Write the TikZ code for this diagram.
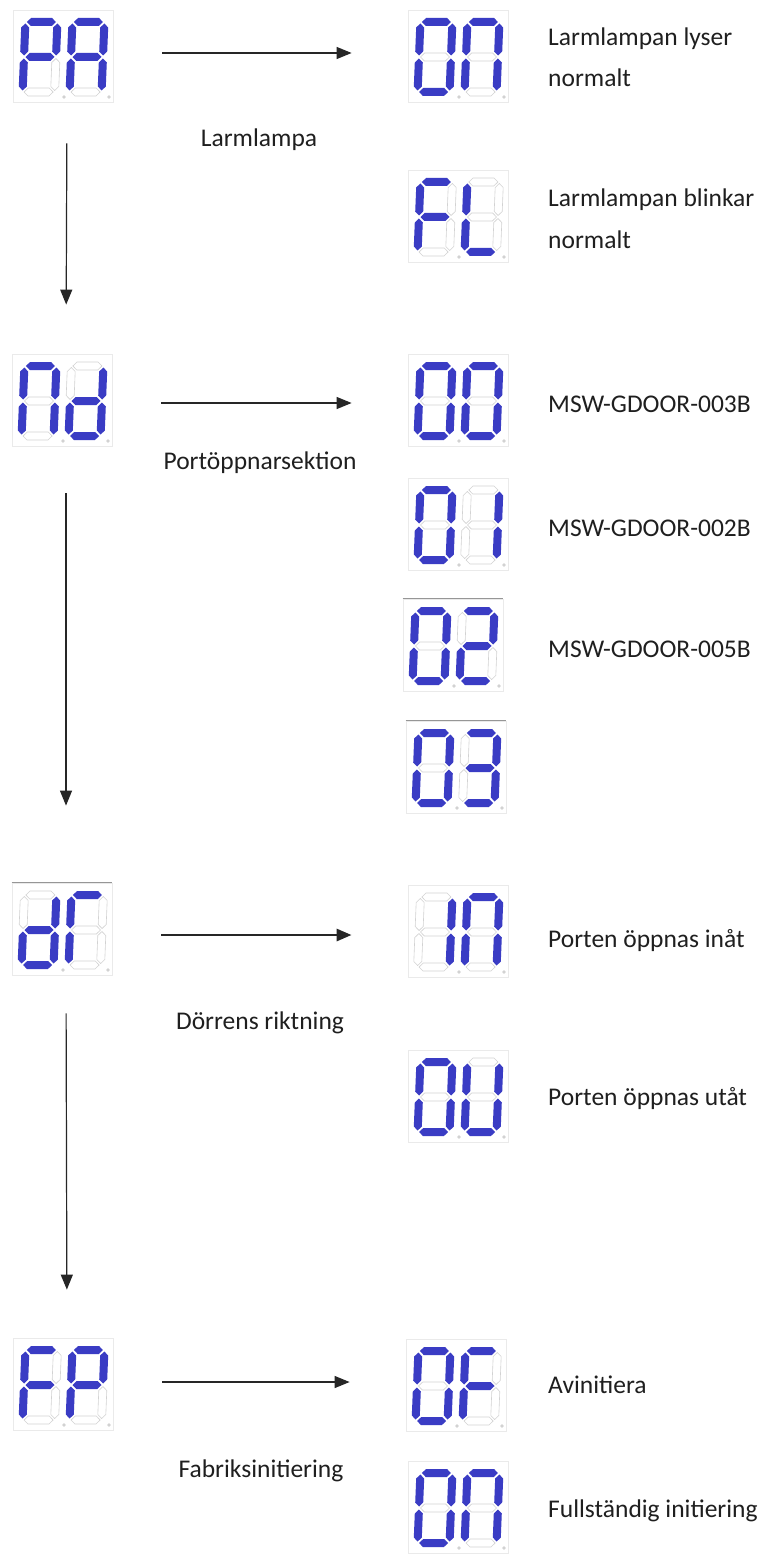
\documentclass[tikz,border=0pt]{standalone}
\usepackage{fontspec}
\setmainfont{Carlito}
\usetikzlibrary{arrows.meta}
\definecolor{segblue}{RGB}{58,60,196}
\definecolor{segoffc}{RGB}{210,210,210}
\definecolor{boxgray}{RGB}{234,234,234}
\definecolor{rulegray}{RGB}{150,150,150}
\def\sh{4.0}
\newcommand\hsg[4]{\path[#4] ({#1},{#3}) -- ({#1+\sh},{#3-\sh}) -- ({#2-\sh},{#3-\sh}) -- ({#2},{#3}) -- ({#2-\sh},{#3+\sh}) -- ({#1+\sh},{#3+\sh}) -- cycle;}
\newcommand\vsg[4]{\path[#4] ({#1},{#2}) -- ({#1+\sh},{#2+\sh}) -- ({#1+\sh},{#3-\sh}) -- ({#1},{#3}) -- ({#1-\sh},{#3-\sh}) -- ({#1-\sh},{#2+\sh}) -- cycle;}
\newcommand\sev[7]{%
  \hsg{-14.5}{14.5}{-35}{#1}%
  \vsg{16}{-33.5}{-1.5}{#2}%
  \vsg{16}{1.5}{33.5}{#3}%
  \hsg{-14.5}{14.5}{35}{#4}%
  \vsg{-16}{1.5}{33.5}{#5}%
  \vsg{-16}{-33.5}{-1.5}{#6}%
  \hsg{-14.5}{14.5}{0}{#7}}
\newcommand\segO{\sev{son}{son}{son}{son}{son}{son}{sof}}
\newcommand\segN{\sev{son}{son}{son}{sof}{son}{son}{sof}}
\newcommand\segP{\sev{son}{son}{sof}{sof}{son}{son}{son}}
\newcommand\segA{\sev{son}{son}{son}{sof}{son}{son}{son}}
\newcommand\segF{\sev{son}{sof}{sof}{sof}{son}{son}{son}}
\newcommand\segL{\sev{sof}{sof}{sof}{son}{son}{son}{sof}}
\newcommand\segD{\sev{sof}{son}{son}{son}{son}{sof}{son}}
\newcommand\segI{\sev{sof}{son}{son}{sof}{sof}{sof}{sof}}
\newcommand\segU{\sev{sof}{son}{son}{son}{son}{son}{sof}}
\newcommand\segR{\sev{son}{sof}{sof}{sof}{son}{son}{sof}}
\newcommand\segTwo{\sev{son}{son}{sof}{son}{son}{sof}{son}}
\newcommand\segThree{\sev{son}{son}{son}{son}{sof}{sof}{son}}
\newcommand\disp[6]{%
  \node[dispbox,#6] (#1) at (#2,#3) {};
  \begin{scope}[shift={({#2-23},{#3+1})},xslant=0.04] #4 \end{scope}
  \begin{scope}[shift={({#2+24},{#3+1})},xslant=0.04] #5 \end{scope}
  \fill[segoffc] ({#2+1},{#3+41}) circle (1.8);
  \fill[segoffc] ({#2+46},{#3+41}) circle (1.8);}
\tikzset{
  son/.style={fill=segblue},
  sof/.style={draw=segoffc, line width=0.6pt, fill=white},
  dispbox/.style={draw=boxgray, line width=0.8pt, minimum width=100pt, minimum height=92pt, inner sep=0pt, fill=white},
  toprule/.style={append after command={(\tikzlastnode.north west) edge[draw=rulegray, line width=0.9pt] (\tikzlastnode.north east)}},
  arr/.style={draw=black!85, line width=1.2pt, -{Triangle[length=15pt,width=12pt]}},
  thickarr/.style={arr, line width=2.8pt},
  lbl/.style={font=\fontsize{25.5}{30}\selectfont, text=black!88, inner sep=0pt, anchor=base west},
  clbl/.style={font=\fontsize{25.5}{30}\selectfont, text=black!88, inner sep=0pt, anchor=base}
}
\begin{document}
\begin{tikzpicture}[x=1pt,y=-1pt]
\useasboundingbox[fill=white] (0,0) rectangle (764,1554);
% displays
\disp{PA}{63}{56}{\segP}{\segA}{}
\disp{ON1}{458}{56}{\segO}{\segN}{}
\disp{FL}{458}{216}{\segF}{\segL}{}
\disp{Nd}{62}{400}{\segN}{\segD}{}
\disp{Z0}{458}{400}{\segO}{\segO}{}
\disp{Z1}{458}{524}{\segO}{\segI}{}
\disp{Z2}{453}{645}{\segO}{\segTwo}{toprule}
\disp{Z3}{456}{767}{\segO}{\segThree}{toprule}
\disp{DR}{62}{929}{\segD}{\segR}{toprule}
\disp{IN}{458}{931}{\segI}{\segN}{}
\disp{OU}{458}{1096}{\segO}{\segU}{}
\disp{FP}{63}{1384}{\segF}{\segP}{}
\disp{OF}{456}{1385}{\segO}{\segF}{}
\disp{ON2}{458}{1507}{\segO}{\segN}{}
% horizontal arrows
\draw[arr, shorten <=49pt, shorten >=56pt] ([yshift=3pt]PA.east) -- ([yshift=3pt]ON1.west);
\draw[arr, shorten <=49pt, shorten >=56pt] ([yshift=-3pt]Nd.east) -- ([yshift=-3pt]Z0.west);
\draw[thickarr, shorten <=49pt, shorten >=56pt] ([yshift=-6pt]DR.east) -- ([yshift=-4pt]IN.west);
\draw[arr, shorten <=49pt, shorten >=56pt] ([yshift=2pt]FP.east) -- ([yshift=3pt]OF.west);
% vertical arrows
\draw[arr, shorten <=41pt, shorten >=49pt] ([xshift=4pt]PA.south) -- ([xshift=4pt]Nd.north);
\draw[arr, shorten <=47pt, shorten >=77pt] ([xshift=4pt]Nd.south) -- ([xshift=4pt]DR.north);
\draw[arr, shorten <=38pt, shorten >=48pt] ([xshift=4pt]DR.south) -- ([xshift=4pt]FP.north);
% left labels
\node[clbl] (t1) at (259,147) {Larmlampa};
\node[clbl] (t2) at (260,469) {Portöppnarsektion};
\node[clbl] (t3) at (260,1029) {Dörrens riktning};
\node[clbl] (t4) at (261,1477) {Fabriksinitiering};
% right labels
\node[lbl] (r1a) at (548,46) {Larmlampan lyser};
\node[lbl] (r1b) at (548,87) {normalt};
\node[lbl] (r2a) at (548,207) {Larmlampan blinkar};
\node[lbl] (r2b) at (548,249) {normalt};
\node[lbl] (r3) at (548,412) {MSW-GDOOR-003B};
\node[lbl] (r4) at (548,536) {MSW-GDOOR-002B};
\node[lbl] (r5) at (548,657) {MSW-GDOOR-005B};
\node[lbl] (r6) at (548,947) {Porten öppnas inåt};
\node[lbl] (r7) at (548,1105) {Porten öppnas utåt};
\node[lbl] (r8) at (548,1393) {Avinitiera};
\node[lbl] (r9) at (548,1517) {Fullständig initiering};
\end{tikzpicture}
\end{document}
